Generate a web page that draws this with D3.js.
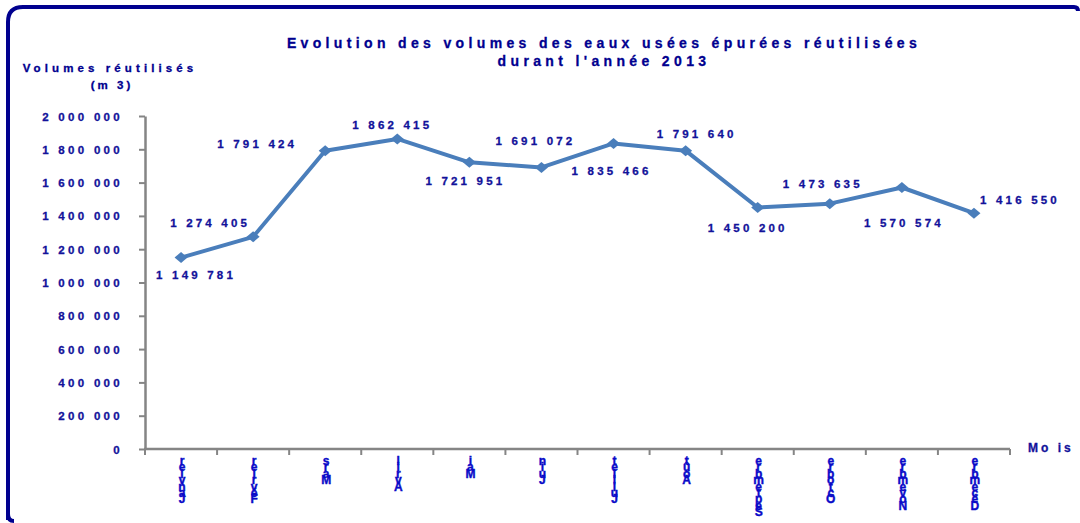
<!DOCTYPE html>
<html>
<head>
<meta charset="utf-8">
<script src="https://cdn.jsdelivr.net/npm/d3@7"></script>
<style>
  html, body { margin: 0; padding: 0; background: #fff; }
  svg { display: block; font-family: "Liberation Sans Narrow", "Arial Narrow", "Liberation Sans", Arial, sans-serif; font-weight: bold; }
</style>
</head>
<body>
<div id="chart"></div>
<script>
// Volumes réutilisés 2013
const months = ["Janvier", "Février", "Mars", "Avril", "Mai", "Juin", "Juillet", "Août", "Septembre", "Octobre", "Novembre", "Décembre"];
const volumes = [1149781, 1274405, 1791424, 1862415, 1721951, 1691072, 1835466, 1791640, 1450200, 1473635, 1570574, 1416550];
const yTicks = [0, 200000, 400000, 600000, 800000, 1000000, 1200000, 1400000, 1600000, 1800000, 2000000];
const titleLines = ["Evolution des volumes des eaux usées épurées réutilisées", "durant l'année 2013"];

// where each data label sits relative to its point (dx, dy of baseline)
const labelPlacement = [[15, 21], [-43, -10], [-68, -3], [-5, -10], [-4, 23], [-6, -22],
                        [-2, 32], [11, -13], [-10, 24], [-7, -16], [2, 40], [46, -9]];

const width = 1080, height = 523;
const navy = "#00008f", textBlue = "#12129a", monthBlue = "#0a0ac8";

const fmt = v => d3.format(",")(v).replace(/,/g, " ");

const svg = d3.select("#chart").append("svg")
    .attr("width", width)
    .attr("height", height);

// frame
svg.append("path")
    .attr("fill", "none")
    .attr("stroke", navy)
    .attr("stroke-width", 4)
    .attr("d", "M8,520 L8,22 Q8,7 23,7 L1074,7 Q1078,7 1078,11");
svg.append("path")
    .attr("fill", "none")
    .attr("stroke", navy)
    .attr("stroke-width", 4)
    .attr("d", "M8,514 Q8,521 14,521");

const x = d3.scaleBand().domain(months).range([145, 1010]);
const y = d3.scaleLinear().domain([0, 2000000]).range([449, 116]);

// title
svg.append("g").selectAll("text")
    .data(titleLines)
    .join("text")
        .attr("x", 604)
        .attr("y", (d, i) => 48 + i * 18)
        .attr("text-anchor", "middle")
        .attr("fill", navy)
        .attr("font-size", 14)
        .attr("letter-spacing", 4.35)
        .attr("stroke", navy).attr("stroke-width", 0.3)
        .text(d => d);

// axis titles
svg.append("text")
    .attr("x", 110).attr("y", 72)
    .attr("text-anchor", "middle")
    .attr("fill", navy)
    .attr("font-size", 11.5)
    .attr("letter-spacing", 4.1)
    .attr("stroke", navy).attr("stroke-width", 0.3)
    .text("Volumes réutilisés");
svg.append("text")
    .attr("x", 112).attr("y", 89)
    .attr("text-anchor", "middle")
    .attr("fill", navy)
    .attr("font-size", 11.5)
    .attr("letter-spacing", 3)
    .attr("stroke", navy).attr("stroke-width", 0.3)
    .text("(m 3)");
svg.append("text")
    .attr("x", 1028).attr("y", 452)
    .attr("fill", textBlue)
    .attr("font-size", 12)
    .attr("letter-spacing", 3)
    .attr("stroke", textBlue).attr("stroke-width", 0.3)
    .text("Mo is");

// y axis
const yAxis = svg.append("g")
    .attr("transform", "translate(145,0)")
    .call(d3.axisLeft(y).tickValues(yTicks).tickSize(6).tickSizeOuter(0).tickPadding(16).tickFormat(fmt));
yAxis.select(".domain").attr("stroke", "#858585").attr("stroke-width", 2.5);
yAxis.selectAll(".tick line").attr("stroke", "#858585").attr("stroke-width", 2);
yAxis.selectAll(".tick text")
    .attr("fill", textBlue)
    .attr("stroke", textBlue).attr("stroke-width", 0.3)
    .attr("font-size", 11.5)
    .attr("letter-spacing", 3.3)
    .attr("dy", "0.35em")
    .attr("font-family", null);

// x axis: ticks at band edges
const xg = svg.append("g");
xg.append("line")
    .attr("x1", 144).attr("x2", x.range()[1])
    .attr("y1", y(0)).attr("y2", y(0))
    .attr("stroke", "#858585").attr("stroke-width", 2.5);
const edges = months.map(m => x(m)).concat([x.range()[1]]);
xg.selectAll("line.tick")
    .data(edges)
    .join("line")
        .attr("class", "tick")
        .attr("x1", d => d).attr("x2", d => d)
        .attr("y1", y(0)).attr("y2", y(0) + 6)
        .attr("stroke", "#858585").attr("stroke-width", 2);

// month labels: stacked upright glyphs, reversed
const ml = xg.selectAll("text.month")
    .data(months)
    .join("text")
        .attr("class", "month")
        .attr("fill", monthBlue)
        .attr("stroke", monthBlue).attr("stroke-width", 0.4)
        .attr("font-size", 12)
        .attr("text-anchor", "middle");
ml.each(function(m) {
    const chars = m.split("").reverse();
    d3.select(this).selectAll("tspan")
        .data(chars)
        .join("tspan")
            .attr("x", x(m) + x.bandwidth() / 2 + 1)
            .attr("y", (c, i) => 465 + i * 6.4)
            .text(c => c);
});

// line + markers
const cx = (d, i) => x(months[i]) + x.bandwidth() / 2;
const line = d3.line().x(cx).y(d => y(d));

svg.append("path")
    .datum(volumes)
    .attr("fill", "none")
    .attr("stroke", "#4a7ebb")
    .attr("stroke-width", 4)
    .attr("stroke-linejoin", "round")
    .attr("d", line);

svg.append("g").selectAll("path")
    .data(volumes)
    .join("path")
        .attr("fill", "#4a7ebb")
        .attr("transform", (d, i) => `translate(${cx(d, i)},${y(d)})`)
        .attr("d", "M-6.5,0L0,-5.5L6.5,0L0,5.5Z");

// data labels
svg.append("g").selectAll("text")
    .data(volumes)
    .join("text")
        .attr("x", (d, i) => cx(d, i) + labelPlacement[i][0])
        .attr("y", (d, i) => y(d) + labelPlacement[i][1])
        .attr("text-anchor", "middle")
        .attr("fill", textBlue)
        .attr("stroke", textBlue).attr("stroke-width", 0.3)
        .attr("font-size", 11.5)
        .attr("letter-spacing", 3.2)
        .text(fmt);
</script>
</body>
</html>
